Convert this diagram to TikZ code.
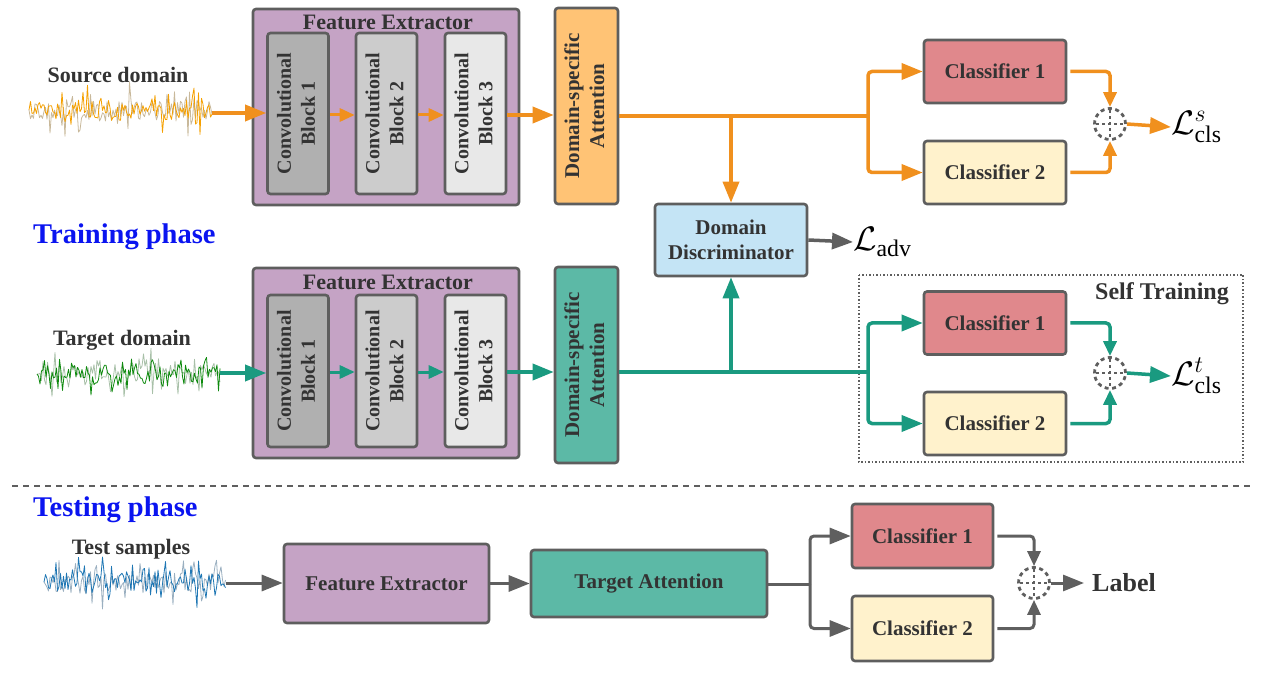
\RequirePackage{fix-cm}
\documentclass[tikz,border=0pt]{standalone}
\usepackage{fontspec}
\usepackage{graphicx}
\setmainfont{Liberation Serif}
\usetikzlibrary{arrows.meta,calc}
\definecolor{bord}{HTML}{5E5E5E}
\definecolor{txt}{HTML}{333333}
\definecolor{fefill}{HTML}{C5A3C5}
\definecolor{cb1}{HTML}{B0B0B0}
\definecolor{cb2}{HTML}{CCCCCC}
\definecolor{cb3}{HTML}{E8E8E8}
\definecolor{oatt}{HTML}{FFC375}
\definecolor{tatt}{HTML}{5CB9A6}
\definecolor{cls1}{HTML}{E0888C}
\definecolor{cls2}{HTML}{FFF2CC}
\definecolor{ddfill}{HTML}{C4E4F5}
\definecolor{oline}{HTML}{F0901E}
\definecolor{tline}{HTML}{1A9A80}
\definecolor{gline}{HTML}{5F5F5F}
\definecolor{phase}{RGB}{10,20,240}
\definecolor{owave}{HTML}{F5A000}
\definecolor{owaveb}{HTML}{C8B89A}
\definecolor{twave}{HTML}{0E8A0E}
\definecolor{twaveb}{HTML}{A8C0A8}
\definecolor{bwave}{HTML}{1F77B4}
\definecolor{bwaveb}{HTML}{9AAFC0}
\newcommand{\drawsignal}[6]{%
  \pgfmathsetseed{#5}%
  \pgfmathtruncatemacro\npts{(#2-#1)/1.5}%
  \draw[#4, line width=0.8pt, line join=round] (#1,#3)
    \foreach \i in {1,...,\npts} {-- ({#1+\i*1.5},{#3+#6*(0.3*rand+rand*rand*rand)})};
}
\newcommand{\vtext}[2]{\rotatebox{90}{\begin{tabular}{@{}c@{}}#1\\#2\end{tabular}}}
\tikzset{
  bx/.style={draw=bord, line width=2.6pt, rounded corners=3pt, text=txt, font=\fontsize{21}{25}\selectfont\bfseries, align=center, inner sep=0pt},
  conv/.style={bx, minimum width=61pt, minimum height=161pt, font=\fontsize{20}{24}\selectfont\bfseries},
  att/.style={bx, minimum width=63pt, minimum height=196pt},
  clsbox/.style={bx, minimum width=142pt, minimum height=63pt},
  lbl/.style={text=txt, font=\fontsize{22}{26}\selectfont\bfseries, inner sep=0pt},
  phaselbl/.style={text=phase, font=\fontsize{28.5}{32}\selectfont\bfseries, inner sep=0pt},
  big/.style={-{Triangle[length=21pt,width=16pt]}},
  small/.style={-{Triangle[length=15pt,width=13pt]}},
  oarr/.style={draw=oline, line width=3.5pt},
  tarr/.style={draw=tline, line width=3.5pt},
  garr/.style={draw=gline, line width=3.5pt},
  sumc/.style={circle, draw=gline, line width=2.8pt, dash pattern=on 4pt off 3.5pt, minimum size=31pt, inner sep=0pt},
  lossl/.style={font=\fontsize{34}{38}\selectfont, inner sep=0pt, anchor=west},
}
\newcommand{\sumplus}[1]{%
  \draw[gline, line width=2.8pt, dash pattern=on 3pt off 3pt] ($(#1.north)+(0,3)$) -- ($(#1.south)+(0,-3)$);
  \draw[gline, line width=2.8pt, dash pattern=on 3pt off 3pt] ($(#1.west)+(3,0)$) -- ($(#1.east)+(-3,0)$);
}
\begin{document}
\begin{tikzpicture}[x=1pt,y=-1pt]
\useasboundingbox (0,0) rectangle (1272,676);

% ---------------- Source row ----------------
\node[lbl] (srclbl) at (118,75) {Source domain};
\drawsignal{29}{212}{110}{owaveb}{17}{32}
\drawsignal{29}{212}{110}{owave}{5}{32}
\coordinate (srcwend) at (212,113);

\node[bx, fill=fefill, minimum width=266pt, minimum height=196pt] (srcFE) at (386,107) {};
\node[lbl] (srcFEt) at (388,22) {Feature Extractor};
\node[conv, fill=cb1] (srcC1) at (298,113.5) {\vtext{Convolutional}{Block 1}};
\node[conv, fill=cb2] (srcC2) at (386.5,113.5) {\vtext{Convolutional}{Block 2}};
\node[conv, fill=cb3] (srcC3) at (475.5,113.5) {\vtext{Convolutional}{Block 3}};
\node[att, fill=oatt] (srcAtt) at (586.5,106) {\vtext{Domain-specific}{Attention}};

\draw[oarr, big] (srcwend) -- (srcwend -| srcC1.west);
\draw[oarr, small, line width=3pt] (srcC1.east |- 0,115) -- (srcC2.west |- 0,115);
\draw[oarr, small, line width=3pt] (srcC2.east |- 0,115) -- (srcC3.west |- 0,115);
\draw[oarr, big] (srcC3.east |- 0,115) -- (srcAtt.west |- 0,115);

\node[clsbox, fill=cls1] (srcCls1) at (995,71.5) {Classifier 1};
\node[clsbox, fill=cls2] (srcCls2) at (995,172.5) {Classifier 2};
\node[bx, fill=ddfill, minimum width=152pt, minimum height=72pt] (DD) at (731,240) {Domain\\Discriminator};

\coordinate (sbr) at (868,116);
\coordinate (sdd) at (731,116);
\draw[oarr] (srcAtt.east |- sbr) -- (sbr);
\draw[oarr, big, rounded corners=4pt] (sbr) |- (srcCls1.west);
\draw[oarr, big, rounded corners=4pt] (sbr) |- (srcCls2.west);
\draw[oarr, big] (sdd) -- (DD.north);

\node[sumc] (srcSum) at (1110,124) {};
\sumplus{srcSum}
\draw[oarr, small, rounded corners=4pt] ($(srcCls1.east)+(3,0)$) -| (srcSum.north);
\draw[oarr, small, rounded corners=4pt] ($(srcCls2.east)+(3,0)$) -| (srcSum.south);
\node[lossl] (srcL) at (1171,127) {$\mathcal{L}^{s}_{\mathrm{cls}}$};
\draw[oarr, big] (srcSum.east) -- (srcL.west);

\node[lossl] (advL) at (853,242) {$\mathcal{L}_{\mathrm{adv}}$};
\draw[garr, big] (DD.east) -- (advL.west);

\node[phaselbl, anchor=west] (trainlbl) at (33,237) {Training phase};

% ---------------- Target row ----------------
\node[lbl] (tgtlbl) at (122,340) {Target domain};
\drawsignal{37}{220}{374}{twaveb}{29}{32}
\drawsignal{37}{220}{374}{twave}{11}{32}
\coordinate (tgtwend) at (220,373);

\node[bx, fill=fefill, minimum width=266pt, minimum height=190pt] (tgtFE) at (386,363) {};
\node[lbl] (tgtFEt) at (388,282) {Feature Extractor};
\node[conv, fill=cb1, minimum height=152pt] (tgtC1) at (298,371) {\vtext{Convolutional}{Block 1}};
\node[conv, fill=cb2, minimum height=152pt] (tgtC2) at (386.5,371) {\vtext{Convolutional}{Block 2}};
\node[conv, fill=cb3, minimum height=152pt] (tgtC3) at (475.5,371) {\vtext{Convolutional}{Block 3}};
\node[att, fill=tatt] (tgtAtt) at (586.5,365) {\vtext{Domain-specific}{Attention}};

\draw[tarr, big] (tgtwend) -- (tgtwend -| tgtC1.west);
\draw[tarr, small, line width=3pt] (tgtC1.east |- 0,372) -- (tgtC2.west |- 0,372);
\draw[tarr, small, line width=3pt] (tgtC2.east |- 0,372) -- (tgtC3.west |- 0,372);
\draw[tarr, big] (tgtC3.east |- 0,372) -- (tgtAtt.west |- 0,372);

\draw[gline, line width=1.5pt, dotted] (859,275) rectangle (1243,462);
\node[text=txt, font=\fontsize{24}{28}\selectfont\bfseries, inner sep=0pt] (stlbl) at (1162,294) {Self Training};

\node[clsbox, fill=cls1] (tgtCls1) at (995,323) {Classifier 1};
\node[clsbox, fill=cls2] (tgtCls2) at (995,423.5) {Classifier 2};

\coordinate (tbr) at (868,372);
\coordinate (tdd) at (731,372);
\draw[tarr] (tgtAtt.east |- tbr) -- (tbr);
\draw[tarr, big, rounded corners=4pt] (tbr) |- (tgtCls1.west);
\draw[tarr, big, rounded corners=4pt] (tbr) |- (tgtCls2.west);
\draw[tarr, big] (tdd) -- (DD.south);

\node[sumc] (tgtSum) at (1110,373) {};
\sumplus{tgtSum}
\draw[tarr, small, rounded corners=4pt] ($(tgtCls1.east)+(3,0)$) -| (tgtSum.north);
\draw[tarr, small, rounded corners=4pt] ($(tgtCls2.east)+(3,0)$) -| (tgtSum.south);
\node[lossl] (tgtL) at (1171,376) {$\mathcal{L}^{t}_{\mathrm{cls}}$};
\draw[tarr, big] (tgtSum.east) -- (tgtL.west);

% ---------------- separator ----------------
\draw[gline, line width=1.8pt, dash pattern=on 6pt off 5pt] (12,486) -- (1251,486);

% ---------------- Testing ----------------
\node[phaselbl, anchor=west] (testlbl) at (33,510) {Testing phase};
\node[lbl] (testslbl) at (131,549) {Test samples};
\drawsignal{44}{226}{582}{bwaveb}{41}{32}
\drawsignal{44}{226}{582}{bwave}{23}{32}
\coordinate (testwend) at (226,583);

\node[bx, fill=fefill, minimum width=205pt, minimum height=79pt] (testFE) at (386.5,583.5) {Feature Extractor};
\node[bx, fill=tatt, minimum width=236pt, minimum height=67pt] (testAtt) at (649,583.5) {Target Attention};
\node[clsbox, fill=cls1, minimum width=141pt, minimum height=64pt] (testCls1) at (922.5,536) {Classifier 1};
\node[clsbox, fill=cls2, minimum width=141pt, minimum height=65pt] (testCls2) at (922.5,628.5) {Classifier 2};

\draw[garr, big, line width=3pt] (testwend) -- (testwend -| testFE.west);
\draw[garr, big, line width=3pt] (testFE.east) -- (testAtt.west);
\coordinate (xbr) at (810,584);
\draw[garr, line width=3pt] (testAtt.east |- xbr) -- (xbr);
\draw[garr, big, line width=3pt, rounded corners=4pt] (xbr) |- (testCls1.west);
\draw[garr, big, line width=3pt, rounded corners=4pt] (xbr) |- (testCls2.west);

\node[sumc] (testSum) at (1034,583) {};
\sumplus{testSum}
\draw[garr, small, line width=3pt, rounded corners=4pt] ($(testCls1.east)+(3,0)$) -| (testSum.north);
\draw[garr, small, line width=3pt, rounded corners=4pt] ($(testCls2.east)+(3,0)$) -| (testSum.south);
\node[text=txt, font=\fontsize{26}{30}\selectfont\bfseries, inner sep=0pt, anchor=west] (labl) at (1092,583) {Label};
\draw[garr, big, line width=3pt] (testSum.east) -- ($(labl.west)+(-8,0)$);
\end{tikzpicture}
\end{document}
